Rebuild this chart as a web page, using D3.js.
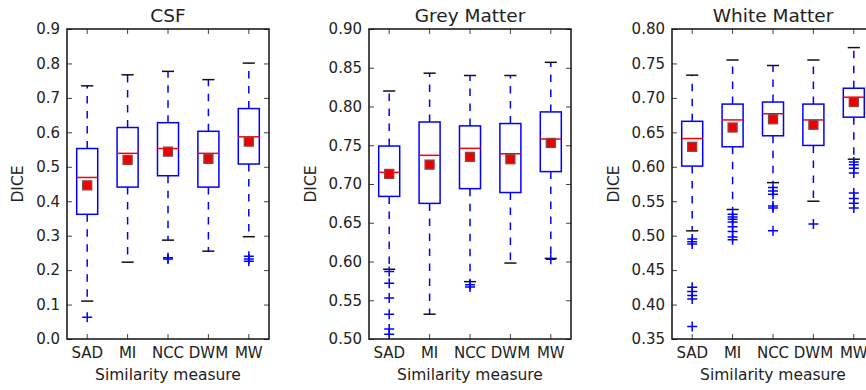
<!DOCTYPE html>
<html>
<head>
<meta charset="utf-8">
<script src="https://cdn.jsdelivr.net/npm/d3@7/dist/d3.min.js"></script>
<style>
  html, body { margin: 0; padding: 0; background: #fff; overflow: hidden; }
  svg { display: block; font-family: "DejaVu Sans", sans-serif; }
</style>
</head>
<body>
<svg id="chart" width="866" height="390"></svg>
<script>
// ---------- data ----------
const categories = ["SAD", "MI", "NCC", "DWM", "MW"];
const panelTitles = ["CSF", "Grey Matter", "White Matter"];
const yLabel = "DICE";
const xLabel = "Similarity measure";

// y-axis domains and tick values
const csfTicks = [0.0, 0.1, 0.2, 0.3, 0.4, 0.5, 0.6, 0.7, 0.8, 0.9];
const gmTicks = [0.50, 0.55, 0.60, 0.65, 0.70, 0.75, 0.80, 0.85, 0.90];
const wmTicks = [0.35, 0.40, 0.45, 0.50, 0.55, 0.60, 0.65, 0.70, 0.75, 0.80];

// CSF
const csfLow    = [0.110, 0.223, 0.287, 0.255, 0.297];
const csfQ1     = [0.362, 0.441, 0.474, 0.441, 0.508];
const csfMedian = [0.469, 0.539, 0.553, 0.539, 0.587];
const csfQ3     = [0.553, 0.614, 0.628, 0.603, 0.669];
const csfHigh   = [0.735, 0.767, 0.777, 0.753, 0.801];
const csfMean   = [0.446, 0.520, 0.544, 0.523, 0.573];
const csfOutliers = [[0.063], [], [0.236, 0.232], [], [0.240, 0.232, 0.226]];

// Grey matter
const gmLow    = [0.590, 0.532, 0.574, 0.598, 0.604];
const gmQ1     = [0.684, 0.675, 0.694, 0.689, 0.716];
const gmMedian = [0.715, 0.737, 0.746, 0.739, 0.758];
const gmQ3     = [0.749, 0.780, 0.775, 0.778, 0.793];
const gmHigh   = [0.820, 0.843, 0.840, 0.840, 0.857];
const gmMean   = [0.713, 0.725, 0.735, 0.732, 0.753];
const gmOutliers = [[0.587, 0.572, 0.553, 0.532, 0.513, 0.506], [], [0.570, 0.567], [], [0.603]];

// White matter
const wmLow    = [0.507, 0.538, 0.577, 0.550, 0.611];
const wmQ1     = [0.601, 0.629, 0.645, 0.631, 0.672];
const wmMedian = [0.641, 0.668, 0.677, 0.668, 0.701];
const wmQ3     = [0.666, 0.691, 0.694, 0.691, 0.714];
const wmHigh   = [0.733, 0.755, 0.747, 0.755, 0.773];
const wmMean   = [0.629, 0.657, 0.669, 0.661, 0.694];
const wmOutliers = [
  [0.495, 0.491, 0.488, 0.425, 0.419, 0.413, 0.408, 0.368],
  [0.531, 0.527, 0.524, 0.520, 0.513, 0.506, 0.498, 0.494],
  [0.570, 0.565, 0.560, 0.543, 0.540, 0.507],
  [0.517],
  [0.607, 0.603, 0.598, 0.591, 0.562, 0.554, 0.547, 0.540]
];

// ---------- build panels ----------
function buildStats(low, q1, med, q3, high, mean, outs) {
  return categories.map((c, i) => ({
    cat: c, low: low[i], q1: q1[i], med: med[i], q3: q3[i], high: high[i], mean: mean[i], outliers: outs[i]
  }));
}

const panels = [
  { title: panelTitles[0], ticks: csfTicks, fmt: ".1f", stats: buildStats(csfLow, csfQ1, csfMedian, csfQ3, csfHigh, csfMean, csfOutliers) },
  { title: panelTitles[1], ticks: gmTicks, fmt: ".2f", stats: buildStats(gmLow, gmQ1, gmMedian, gmQ3, gmHigh, gmMean, gmOutliers) },
  { title: panelTitles[2], ticks: wmTicks, fmt: ".2f", stats: buildStats(wmLow, wmQ1, wmMedian, wmQ3, wmHigh, wmMean, wmOutliers) }
];

const svg = d3.select("#chart");
const panelLefts = [67, 369, 672];
const axTop = 29, axBottom = 339, axWidth = 202;
const textColor = "#222";
const tickLen = 5;

panels.forEach((p, pi) => {
  const left = panelLefts[pi];
  const right = left + axWidth;
  const g = svg.append("g");

  const x = d3.scaleBand().domain(categories).range([left, right]).paddingInner(0).paddingOuter(0);
  const y = d3.scaleLinear().domain([p.ticks[0], p.ticks[p.ticks.length - 1]]).range([axBottom, axTop]);
  const bw = x.bandwidth();
  const boxW = bw * 0.52;
  const capW = bw * 0.3;
  const cx = d => x(d) + bw / 2;

  // axes with inward ticks (left / bottom with labels, right / top without)
  const yAxisL = d3.axisLeft(y).tickValues(p.ticks).tickFormat(d3.format(p.fmt)).tickSizeInner(-tickLen).tickSizeOuter(0).tickPadding(7);
  const yAxisR = d3.axisRight(y).tickValues(p.ticks).tickFormat("").tickSizeInner(-tickLen).tickSizeOuter(0);
  const xAxisB = d3.axisBottom(x).tickSizeInner(-tickLen).tickSizeOuter(0).tickPadding(8);
  const xAxisT = d3.axisTop(x).tickFormat("").tickSizeInner(-tickLen).tickSizeOuter(0);

  const gl = g.append("g").attr("transform", `translate(${left},0)`).call(yAxisL);
  const gr = g.append("g").attr("transform", `translate(${right},0)`).call(yAxisR);
  const gb = g.append("g").attr("transform", `translate(0,${axBottom})`).call(xAxisB);
  const gt = g.append("g").attr("transform", `translate(0,${axTop})`).call(xAxisT);
  [gl, gr, gb, gt].forEach(a => {
    a.select(".domain").remove();
    a.selectAll(".tick line").attr("stroke", "#444").attr("stroke-width", 1);
    a.selectAll(".tick text").attr("fill", textColor).attr("font-size", 15).attr("font-family", "DejaVu Sans");
  });

  // whiskers (dashed)
  const wh = g.append("g");
  p.stats.forEach(s => {
    wh.append("line").attr("x1", cx(s.cat)).attr("x2", cx(s.cat)).attr("y1", y(s.q3)).attr("y2", y(s.high))
      .attr("stroke", "#0000ff").attr("stroke-width", 1.5).attr("stroke-dasharray", "7.5,7.5");
    wh.append("line").attr("x1", cx(s.cat)).attr("x2", cx(s.cat)).attr("y1", y(s.q1)).attr("y2", y(s.low))
      .attr("stroke", "#0000ff").attr("stroke-width", 1.5).attr("stroke-dasharray", "7.5,7.5");
    // caps
    [s.low, s.high].forEach(v => {
      wh.append("line").attr("x1", cx(s.cat) - capW / 2).attr("x2", cx(s.cat) + capW / 2)
        .attr("y1", y(v)).attr("y2", y(v)).attr("stroke", "#111").attr("stroke-width", 1.5);
    });
  });

  // boxes
  g.append("g").selectAll("rect").data(p.stats).join("rect")
    .attr("x", d => cx(d.cat) - boxW / 2).attr("width", boxW)
    .attr("y", d => y(d.q3)).attr("height", d => y(d.q1) - y(d.q3))
    .attr("fill", "none").attr("stroke", "#0000ff").attr("stroke-width", 1.5);

  // medians
  g.append("g").selectAll("line").data(p.stats).join("line")
    .attr("x1", d => cx(d.cat) - boxW / 2).attr("x2", d => cx(d.cat) + boxW / 2)
    .attr("y1", d => y(d.med)).attr("y2", d => y(d.med))
    .attr("stroke", "#ff0000").attr("stroke-width", 1.5);

  // outliers (+)
  const og = g.append("g");
  p.stats.forEach(s => {
    s.outliers.forEach(v => {
      const px = cx(s.cat), py = y(v), h = 5;
      og.append("path").attr("d", `M${px - h},${py}H${px + h}M${px},${py - h}V${py + h}`)
        .attr("stroke", "#0000ff").attr("stroke-width", 1.5).attr("fill", "none");
    });
  });

  // means (red squares)
  const ms = 9;
  g.append("g").selectAll("rect").data(p.stats).join("rect")
    .attr("x", d => cx(d.cat) - ms / 2).attr("y", d => y(d.mean) - ms / 2)
    .attr("width", ms).attr("height", ms)
    .attr("fill", "#ee0000").attr("stroke", "#8a4545").attr("stroke-width", 1.3);

  // frame
  g.append("rect").attr("x", left).attr("y", axTop).attr("width", axWidth).attr("height", axBottom - axTop)
    .attr("fill", "none").attr("stroke", "#111").attr("stroke-width", 1.5);

  // title
  g.append("text").attr("x", (left + right) / 2).attr("y", 22).attr("text-anchor", "middle")
    .attr("font-size", 18.5).attr("fill", textColor).text(p.title);

  // x label
  g.append("text").attr("x", (left + right) / 2).attr("y", 380).attr("text-anchor", "middle")
    .attr("font-size", 15.5).attr("fill", textColor).text(xLabel);

  // y label, placed from tick label extent
  let minX = Infinity;
  gl.selectAll(".tick text").each(function () { const b = this.getBBox(); const m = this.getCTM(); minX = Math.min(minX, b.x + m.e); });
  const lx = minX - 13, ly = (axTop + axBottom) / 2;
  g.append("text").attr("transform", `translate(${lx},${ly}) rotate(-90)`).attr("text-anchor", "middle")
    .attr("font-size", 15.5).attr("fill", textColor).text(yLabel);
});
</script>
</body>
</html>
